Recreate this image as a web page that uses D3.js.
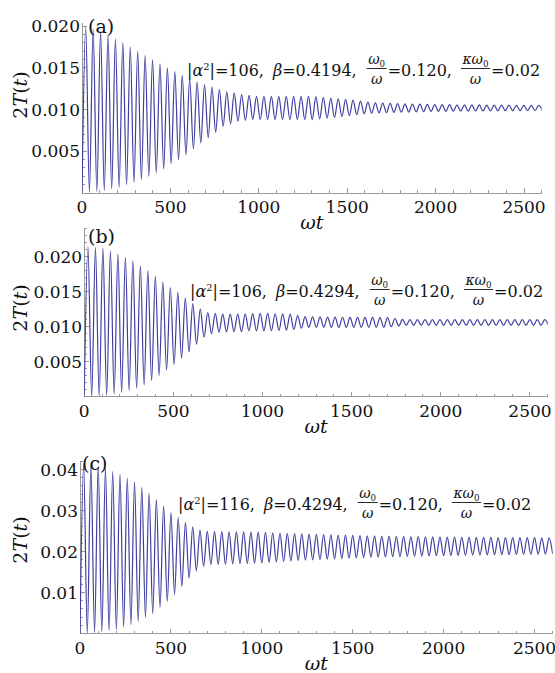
<!DOCTYPE html>
<html>
<head>
<meta charset="utf-8">
<script src="https://cdn.jsdelivr.net/npm/d3@7"></script>
<style>
  body { margin: 0; background: #fff; }
  svg { font-family: "DejaVu Serif", serif; background: #fff; }
  .axis-line { stroke: #9a9a9a; stroke-width: 1px; shape-rendering: crispEdges; }
  .tick { stroke: #9a9a9a; stroke-width: 1px; shape-rendering: crispEdges; }
  .tick-label { font-size: 17px; fill: #111; }
  .math { fill: #111; }
  path.wave { fill: none; stroke: #3f3fa0; stroke-width: 1.2px; }
</style>
</head>
<body>
<svg id="chart" width="555" height="673"></svg>
<script>
// ---- data: local maxima / minima of each curve ----
// (a): maxima at t = 21 + 42k, minima at t = 42k
var peaksA = [0.0199, 0.0196, 0.01935, 0.0189, 0.0185, 0.0180, 0.0175, 0.0170, 0.0165, 0.0160,
  0.0155, 0.0150, 0.01455, 0.0141, 0.0137, 0.0133, 0.0130, 0.0127, 0.0124, 0.0121,
  0.0120, 0.0118, 0.0117, 0.0116, 0.0116, 0.0116, 0.0116, 0.0116, 0.0116, 0.0116,
  0.0116, 0.01155, 0.01147, 0.01139, 0.0113, 0.01122, 0.01113, 0.01103, 0.01091, 0.0108,
  0.01077, 0.01075, 0.01072, 0.0107, 0.01067, 0.01065, 0.01063, 0.0106, 0.01059, 0.01059,
  0.01058, 0.01057, 0.01057, 0.01056, 0.01055, 0.01054, 0.01054, 0.01053, 0.01052, 0.01052,
  0.0105, 0.0105];
var troughsA = [0.0000, 0.0001, 0.0002, 0.0003, 0.0005, 0.0007, 0.0010, 0.0013, 0.0016, 0.0020,
  0.0024, 0.0029, 0.0035, 0.0040, 0.0046, 0.0053, 0.0060, 0.0066, 0.0073, 0.0080,
  0.0083, 0.0086, 0.0087, 0.0088, 0.0088, 0.0088, 0.0088, 0.0088, 0.0088, 0.0088,
  0.0088, 0.0088, 0.00889, 0.00897, 0.00906, 0.00916, 0.00929, 0.0094, 0.00951, 0.00958,
  0.00962, 0.00964, 0.00967, 0.00969, 0.00971, 0.00974, 0.00976, 0.00979, 0.0098, 0.0098,
  0.00982, 0.00982, 0.00983, 0.00984, 0.00984, 0.00985, 0.00986, 0.00987, 0.00987, 0.00988,
  0.00989, 0.00989, 0.0099];

// (b): maxima at t = 21 + 42k, minima at t = 42k
var peaksB = [0.0214, 0.0213, 0.0212, 0.0208, 0.0204, 0.0199, 0.0194, 0.0187, 0.0180, 0.0172,
  0.0164, 0.0156, 0.0149, 0.0141, 0.0133, 0.0125, 0.0120, 0.0119, 0.0118, 0.0118,
  0.0118, 0.0118, 0.01187, 0.0119, 0.0119, 0.01185, 0.01182, 0.0118, 0.01161, 0.01144,
  0.0114, 0.01139, 0.01138, 0.01136, 0.01135, 0.01134, 0.01133, 0.01132, 0.01132, 0.01131,
  0.0113, 0.01117, 0.01105, 0.0110, 0.0110, 0.0110, 0.0110, 0.0110, 0.0110, 0.0110,
  0.0110, 0.0110, 0.0110, 0.0110, 0.0110, 0.0110, 0.0110, 0.0110, 0.0110, 0.0110,
  0.0110, 0.0110];
var troughsB = [0.0000, 0.00004, 0.0001, 0.0002, 0.0004, 0.0006, 0.0009, 0.0012, 0.0017, 0.0023,
  0.0030, 0.0038, 0.0046, 0.0055, 0.0064, 0.0075, 0.0085, 0.0090, 0.0092, 0.0093,
  0.0093, 0.0093, 0.0094, 0.0094, 0.0094, 0.00943, 0.00946, 0.0095, 0.0096, 0.0098,
  0.0099, 0.0099, 0.0099, 0.0099, 0.0099, 0.0099, 0.0099, 0.0099, 0.0099, 0.0099,
  0.0099, 0.0100, 0.0101, 0.0102, 0.0102, 0.0102, 0.0102, 0.0102, 0.0102, 0.0102,
  0.0102, 0.0102, 0.0102, 0.0102, 0.0102, 0.0102, 0.0102, 0.0102, 0.0102, 0.0102,
  0.0102, 0.0102, 0.0102];

// (c): maxima at t = 20 + 40k, minima at t = 40k
var peaksC = [0.0411, 0.0410, 0.0408, 0.0402, 0.0395, 0.0388, 0.0379, 0.0370, 0.0356, 0.0342,
  0.0327, 0.0311, 0.0295, 0.0283, 0.0271, 0.0260, 0.0252, 0.0249, 0.02487, 0.02485,
  0.02482, 0.02479, 0.02477, 0.02474, 0.02471, 0.02466, 0.02458, 0.0245, 0.02442, 0.02434,
  0.02428, 0.02423, 0.02418, 0.02413, 0.02408, 0.02403, 0.02398, 0.02393, 0.02388, 0.02383,
  0.02379, 0.02376, 0.02373, 0.0237, 0.02367, 0.02364, 0.02361, 0.02358, 0.02355, 0.02352,
  0.0235, 0.02349, 0.02348, 0.02347, 0.02346, 0.02344, 0.02343, 0.02342, 0.02341, 0.0234,
  0.02339, 0.02338, 0.02337, 0.02335, 0.02334];
var troughsC = [0.0000, 0.0001, 0.0002, 0.0004, 0.0007, 0.0010, 0.0016, 0.0022, 0.0030, 0.0039,
  0.0048, 0.0063, 0.0078, 0.0095, 0.0115, 0.0135, 0.0153, 0.0164, 0.01683, 0.01688,
  0.01693, 0.01699, 0.01704, 0.01709, 0.01715, 0.0172, 0.01732, 0.01744, 0.01756, 0.01768,
  0.0178, 0.01788, 0.01796, 0.01804, 0.01812, 0.0182, 0.01828, 0.01836, 0.01844, 0.01852,
  0.0186, 0.01864, 0.01868, 0.01872, 0.01876, 0.0188, 0.01884, 0.01888, 0.01892, 0.01896,
  0.0190, 0.01903, 0.01905, 0.01908, 0.01911, 0.01913, 0.01916, 0.01919, 0.01921, 0.01924,
  0.01927, 0.01929, 0.01932, 0.01935, 0.01937, 0.0194];

var halfPeriods = [21, 21, 20];
var xTicks = [0, 500, 1000, 1500, 2000, 2500];
var yTicksAB = [0.005, 0.010, 0.015, 0.020];
var yTicksC = [0.01, 0.02, 0.03, 0.04];
var panelLabels = ["(a)", "(b)", "(c)"];
var alphaSq = ["106", "106", "116"];
var betas = ["0.4194", "0.4294", "0.4294"];
var omegaRatio = ["0.120", "0.120", "0.120"];
var kappaRatio = ["0.02", "0.02", "0.02"];

// ---- layout (pixels) ----
var panels = [
  {peaks: peaksA, troughs: troughsA, yTicks: yTicksAB, fmt: ".3f", minor: 0.001, yMax: 0.0204,
   x0: 82, x1: 541.7, yBase: 193, yTop: 22.9, ylab: 95, lab: [88, 33], note: [187, 76]},
  {peaks: peaksB, troughs: troughsB, yTicks: yTicksAB, fmt: ".3f", minor: 0.001, yMax: 0.0241,
   x0: 84.2, x1: 547.8, yBase: 396.7, yTop: 228, ylab: 308, lab: [88, 243], note: [190, 297]},
  {peaks: peaksC, troughs: troughsC, yTicks: yTicksC, fmt: ".2f", minor: 0.002, yMax: 0.0422,
   x0: 80, x1: 552.7, yBase: 633.5, yTop: 460.5, ylab: 540, lab: [82, 470], note: [178, 510]}
];

var svg = d3.select("#chart");

function richText(g, x, y, parts, size) {
  var t = g.append("text").attr("class", "math").attr("x", x).attr("y", y)
    .style("font-size", size + "px");
  var shift = 0;
  parts.forEach(function (p) {
    var s = t.append("tspan").text(p[0]);
    var want = p[1] === "sup" ? -0.38 * size : (p[1] === "sub" ? 0.22 * size : 0);
    if (want !== shift) { s.attr("dy", want - shift); shift = want; }
    if (p[1] === "i") s.style("font-style", "italic");
    if (p[1] === "sup" || p[1] === "sub") s.style("font-size", (size * 0.62) + "px");
  });
  return t;
}

function fraction(g, x, base, num, den, size) {
  var n = richText(g, 0, base - 12, num, size);
  var d = richText(g, 0, base + 8, den, size);
  var wn = n.node().getComputedTextLength(), wd = d.node().getComputedTextLength();
  var w = Math.max(wn, wd) + 3;
  n.attr("x", x + (w - wn) / 2);
  d.attr("x", x + (w - wd) / 2);
  g.append("line").attr("x1", x).attr("x2", x + w)
    .attr("y1", base - 7.5).attr("y2", base - 7.5)
    .attr("stroke", "#111").attr("stroke-width", 0.9);
  return w;
}

panels.forEach(function (p, i) {
  var g = svg.append("g");
  var x = d3.scaleLinear().domain([0, 2600]).range([p.x0, p.x1]);
  var y = d3.scaleLinear().domain([0, p.yMax]).range([p.yBase, p.yTop]);

  // merge extrema into one ordered series
  var h = halfPeriods[i], pts = [];
  p.troughs.forEach(function (v, k) {
    pts.push({t: 2 * k * h, v: v});
    if (k < p.peaks.length) pts.push({t: (2 * k + 1) * h, v: p.peaks[k]});
  });

  // axes
  g.append("line").attr("class", "axis-line")
    .attr("x1", x(0)).attr("x2", x(2600)).attr("y1", y(0)).attr("y2", y(0));
  g.append("line").attr("class", "axis-line")
    .attr("x1", x(0)).attr("x2", x(0)).attr("y1", y(0)).attr("y2", y(p.yMax));

  var xMinor = d3.range(100, 2601, 100);
  g.selectAll(".xt").data(xMinor).enter().append("line").attr("class", "tick")
    .attr("x1", function (d) { return x(d); }).attr("x2", function (d) { return x(d); })
    .attr("y1", y(0)).attr("y2", function (d) { return y(0) - (d % 500 === 0 ? 5 : 3); });
  var yMinor = d3.range(1, Math.floor(p.yMax / p.minor + 1e-6) + 1).map(function (k) { return k * p.minor; });
  g.selectAll(".yt").data(yMinor).enter().append("line").attr("class", "tick")
    .attr("y1", function (d) { return y(d); }).attr("y2", function (d) { return y(d); })
    .attr("x1", x(0)).attr("x2", function (d, k) { return x(0) + ((k + 1) % 5 === 0 ? 5 : 3); });

  g.selectAll(".xl").data(xTicks).enter().append("text").attr("class", "tick-label")
    .attr("x", function (d) { return x(d); }).attr("y", y(0) + 20)
    .attr("text-anchor", "middle").text(function (d) { return d; });
  var f = d3.format(p.fmt);
  g.selectAll(".yl").data(p.yTicks).enter().append("text").attr("class", "tick-label")
    .attr("x", x(0) - 2).attr("y", function (d) { return y(d); })
    .attr("dy", "0.36em").attr("text-anchor", "end").text(function (d) { return f(d); });

  // curve
  var clipId = "clip" + i;
  g.append("clipPath").attr("id", clipId).append("rect")
    .attr("x", x(0)).attr("y", 0).attr("width", x(2600) - x(0)).attr("height", 673);
  var line = d3.line().x(function (d) { return x(d.t); }).y(function (d) { return y(d.v); })
    .curve(d3.curveMonotoneX);
  g.append("path").datum(pts).attr("class", "wave").attr("clip-path", "url(#" + clipId + ")")
    .attr("d", line);

  // axis titles
  richText(g, (p.x0 + p.x1) / 2, y(0) + 36, [["ωt", "i"]], 19).attr("text-anchor", "middle");
  richText(g, 0, 0, [["2", ""], ["T", "i"], ["(", ""], ["t", "i"], [")", ""]], 19)
    .attr("text-anchor", "middle").attr("transform", "translate(27," + p.ylab + ") rotate(-90)");

  // panel label
  richText(g, p.lab[0], p.lab[1], [[panelLabels[i], ""]], 19);

  // parameter note, laid out piece by piece
  var fs = 16, ff = 14, cx = p.note[0], base = p.note[1];
  var t1 = richText(g, cx, base, [["|", ""], ["α", "i"], ["2", "sup"], ["|=" + alphaSq[i] + ",", ""]], fs);
  cx += t1.node().getComputedTextLength() + 9;
  var t2 = richText(g, cx, base, [["β", "i"], ["=" + betas[i] + ",", ""]], fs);
  cx += t2.node().getComputedTextLength() + 10;
  cx += fraction(g, cx, base, [["ω", "i"], ["0", "sub"]], [["ω", "i"]], ff) + 1;
  var t3 = richText(g, cx, base, [["=" + omegaRatio[i] + ",", ""]], fs);
  cx += t3.node().getComputedTextLength() + 9;
  cx += fraction(g, cx, base, [["κω", "i"], ["0", "sub"]], [["ω", "i"]], ff) + 1;
  richText(g, cx, base, [["=" + kappaRatio[i], ""]], fs);
});
</script>
</body>
</html>
